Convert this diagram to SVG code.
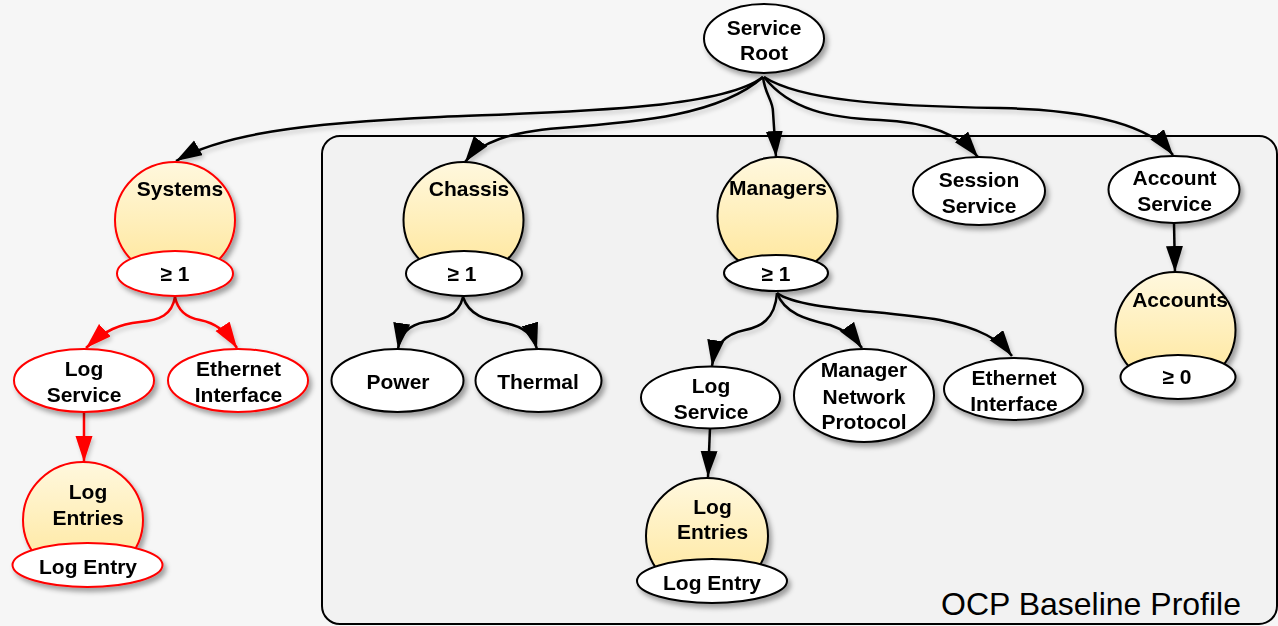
<svg xmlns="http://www.w3.org/2000/svg" width="1278" height="626" viewBox="0 0 1278 626">
<defs>
<style>
text{font-family:"Liberation Sans",Arial,sans-serif;font-weight:bold;font-size:21px;fill:#000;text-anchor:middle}
.n{fill:#fff;stroke:#000;stroke-width:2}
.egg{fill:url(#eg);stroke:#000;stroke-width:2}
.n.r,.egg.r{stroke:#f00}
.e{fill:none;stroke:#000;stroke-width:2.5;marker-end:url(#ah)}
.er{fill:none;stroke:#f00;stroke-width:2.5;marker-end:url(#ahr)}
.lbl{font-weight:normal;font-size:32px;text-anchor:start}
</style>
<linearGradient id="eg" x1="0" y1="0" x2="0" y2="1">
<stop offset="0" stop-color="#fff8de"/>
<stop offset="1" stop-color="#ffe699"/>
</linearGradient>
<filter id="sh" x="-20%" y="-20%" width="150%" height="150%">
<feDropShadow dx="3" dy="4" stdDeviation="2.5" flood-color="#000" flood-opacity="0.35"/>
</filter>
<filter id="shl" x="-5%" y="-20%" width="110%" height="150%">
<feDropShadow dx="2" dy="3" stdDeviation="2" flood-color="#000" flood-opacity="0.2"/>
</filter>
<marker id="ah" markerUnits="userSpaceOnUse" markerWidth="28" markerHeight="19" refX="26" refY="8.5" orient="auto">
<path d="M0,0 L26,8.5 L0,17 z" fill="#000"/>
</marker>
<marker id="ahr" markerUnits="userSpaceOnUse" markerWidth="28" markerHeight="19" refX="26" refY="8.5" orient="auto">
<path d="M0,0 L26,8.5 L0,17 z" fill="#f00"/>
</marker>
</defs>
<rect x="0" y="0" width="1278" height="626" fill="#f6f6f6"/>
<g id="profile">
<rect x="322" y="136" width="955" height="488" rx="18" fill="#f2f2f2" stroke="#000" stroke-width="2"/>
<text class="lbl" x="941" y="615">OCP Baseline Profile</text>
</g>
<g id="connectors" filter="url(#shl)">
<path class="e" d="M763,77 C720,110 560,112 440,117 C300,123 220,135 176,161"/>
<path class="e" d="M763,77 C720,115 640,122 560,128 C510,132 480,142 465,162"/>
<path class="e" d="M763,77 C765,95 773,100 773,112 L776,157"/>
<path class="e" d="M764,77 C790,110 830,118 880,120 C930,122 960,135 978,157"/>
<path class="e" d="M764,77 C800,100 880,106 1000,108 C1090,110 1150,125 1173,155"/>
<path class="e" d="M1174,223 L1175,272"/>
<path class="er" d="M175,297 C172,315 160,320 140,322 C120,324 105,330 86,348"/>
<path class="er" d="M175,297 C178,312 188,318 200,320 C215,323 225,330 237,348"/>
<path class="er" d="M84,412 L84,462"/>
<path class="e" d="M463,297 C458,318 440,320 425,322 C408,325 400,335 398,349"/>
<path class="e" d="M463,297 C470,318 490,320 505,323 C525,327 533,335 537,349"/>
<path class="e" d="M777,293 C775,320 760,327 745,330 C725,334 715,345 712,366"/>
<path class="e" d="M777,293 C785,315 810,320 830,325 C845,330 855,338 862,348"/>
<path class="e" d="M777,293 C800,310 880,310 940,320 C980,328 1000,340 1012,356"/>
<path class="e" d="M710,428 L708,477"/>
</g>
<g id="service-root" filter="url(#sh)">
<ellipse class="n" cx="764" cy="38.5" rx="60" ry="34.5"/>
<text x="764" y="35">Service</text>
<text x="764" y="60">Root</text>
</g>
<g id="systems" filter="url(#sh)">
<ellipse class="egg r" cx="175" cy="220" rx="60" ry="58"/>
<ellipse class="n r" cx="175" cy="273.5" rx="58" ry="22.5"/>
<text x="180" y="196">Systems</text>
<text x="175" y="281">≥ 1</text>
</g>
<g id="chassis" filter="url(#sh)">
<ellipse class="egg" cx="463.5" cy="220" rx="60" ry="58"/>
<ellipse class="n" cx="464" cy="273.5" rx="58" ry="22.5"/>
<text x="469" y="196">Chassis</text>
<text x="462" y="281">≥ 1</text>
</g>
<g id="managers" filter="url(#sh)">
<ellipse class="egg" cx="777.5" cy="216" rx="60" ry="59"/>
<ellipse class="n" cx="776" cy="273" rx="52" ry="18"/>
<text x="778" y="195">Managers</text>
<text x="776" y="281">≥ 1</text>
</g>
<g id="session-service" filter="url(#sh)">
<ellipse class="n" cx="979" cy="191" rx="66" ry="34"/>
<text x="979" y="187">Session</text>
<text x="979" y="213">Service</text>
</g>
<g id="account-service" filter="url(#sh)">
<ellipse class="n" cx="1174" cy="189.5" rx="65.5" ry="33.5"/>
<text x="1174.5" y="185">Account</text>
<text x="1174.5" y="211">Service</text>
</g>
<g id="accounts" filter="url(#sh)">
<ellipse class="egg" cx="1175.5" cy="330" rx="60" ry="58"/>
<ellipse class="n" cx="1178" cy="377" rx="57.5" ry="22"/>
<text x="1180" y="307">Accounts</text>
<text x="1177" y="384">≥ 0</text>
</g>
<g id="sys-log-service" filter="url(#sh)">
<ellipse class="n r" cx="84" cy="380.5" rx="70" ry="31.5"/>
<text x="84" y="376">Log</text>
<text x="84" y="402">Service</text>
</g>
<g id="sys-ethernet-interface" filter="url(#sh)">
<ellipse class="n r" cx="238" cy="380.5" rx="70" ry="31.5"/>
<text x="238.5" y="376">Ethernet</text>
<text x="238.5" y="402">Interface</text>
</g>
<g id="sys-log-entries" filter="url(#sh)">
<ellipse class="egg r" cx="83" cy="520" rx="60" ry="58"/>
<ellipse class="n r" cx="87.5" cy="565" rx="75" ry="22"/>
<text x="88" y="499">Log</text>
<text x="88" y="525">Entries</text>
<text x="88" y="574">Log Entry</text>
</g>
<g id="power" filter="url(#sh)">
<ellipse class="n" cx="397.5" cy="380.5" rx="66" ry="31.5"/>
<text x="398" y="389">Power</text>
</g>
<g id="thermal" filter="url(#sh)">
<ellipse class="n" cx="538.5" cy="380.5" rx="63" ry="31.5"/>
<text x="538" y="389">Thermal</text>
</g>
<g id="mgr-log-service" filter="url(#sh)">
<ellipse class="n" cx="710.5" cy="397.5" rx="69.5" ry="31"/>
<text x="711" y="393">Log</text>
<text x="711" y="419">Service</text>
</g>
<g id="manager-network-protocol" filter="url(#sh)">
<ellipse class="n" cx="864" cy="395.5" rx="70" ry="46.5"/>
<text x="864" y="377">Manager</text>
<text x="864" y="404">Network</text>
<text x="864" y="429">Protocol</text>
</g>
<g id="mgr-ethernet-interface" filter="url(#sh)">
<ellipse class="n" cx="1013.5" cy="389" rx="69.5" ry="31"/>
<text x="1014" y="385">Ethernet</text>
<text x="1014" y="411">Interface</text>
</g>
<g id="mgr-log-entries" filter="url(#sh)">
<ellipse class="egg" cx="707" cy="536" rx="61" ry="58"/>
<ellipse class="n" cx="712" cy="581" rx="75" ry="22"/>
<text x="712.5" y="514">Log</text>
<text x="712.5" y="539">Entries</text>
<text x="712" y="590">Log Entry</text>
</g>
</svg>
